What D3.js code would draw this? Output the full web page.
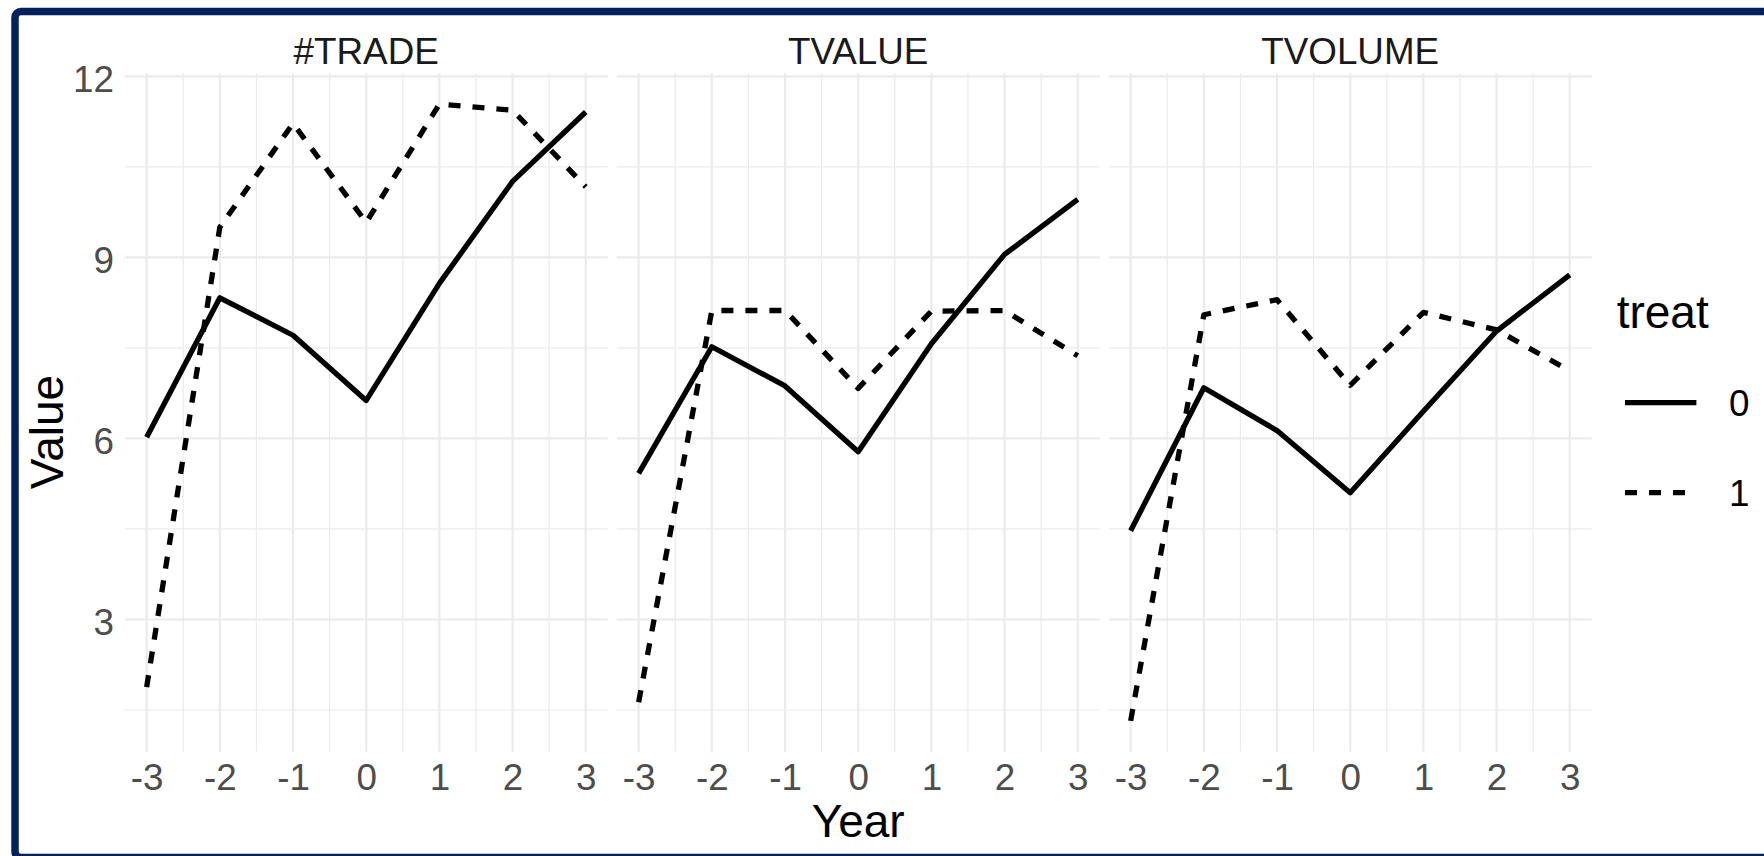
<!DOCTYPE html>
<html>
<head>
<meta charset="utf-8">
<script src="https://cdn.jsdelivr.net/npm/d3@7"></script>
<style>
  html, body { margin: 0; padding: 0; background: #ffffff; }
  svg { display: block; }
  text { font-family: "Liberation Sans", Arial, sans-serif; }
</style>
</head>
<body>
<svg id="chart" width="1764" height="856"></svg>
<script>
// Event-time window (years relative to treatment)
const years = [-3, -2, -1, 0, 1, 2, 3];

// Facet (measure) names
const facets = ["#TRADE", "TVALUE", "TVOLUME"];

// Group means per year, control (treat = 0) and treated (treat = 1)
const trade0   = [6.02, 8.33, 7.71, 6.63, 8.57, 10.26, 11.41];
const trade1   = [1.88, 9.50, 11.22, 9.58, 11.54, 11.44, 10.17];
const tvalue0  = [5.42, 7.52, 6.87, 5.78, 7.57, 9.05, 9.96];
const tvalue1  = [1.63, 8.12, 8.12, 6.83, 8.11, 8.12, 7.37];
const tvolume0 = [4.47, 6.84, 6.13, 5.10, 6.45, 7.78, 8.71];
const tvolume1 = [1.32, 8.05, 8.30, 6.88, 8.09, 7.80, 7.12];

// Axis breaks
const yBreaks = [3, 6, 9, 12];
const yMinor  = [1.5, 4.5, 7.5, 10.5];
const xBreaks = [-3, -2, -1, 0, 1, 2, 3];
const xMinor  = [-2.5, -1.5, -0.5, 0.5, 1.5, 2.5];

const groups = ["0", "1"];
const seriesByFacet = [
  [trade0, trade1],
  [tvalue0, tvalue1],
  [tvolume0, tvolume1]
];

const svg = d3.select("#chart");

// Frame
svg.append("rect")
  .attr("x", 15).attr("y", 11.5)
  .attr("width", 1800).attr("height", 846)
  .attr("rx", 6).attr("ry", 6)
  .attr("fill", "#ffffff")
  .attr("stroke", "#03215f")
  .attr("stroke-width", 7.5);

// Panel geometry
const panelTop = 73.3, panelBottom = 751.7;
const panelW = 483, panelGap = 9, panelX0 = 124.7;

// Shared y scale, 5% expansion around the data range
const allVals = seriesByFacet.flat(2);
const yLo = d3.min(allVals), yHi = d3.max(allVals);
const yPad = (yHi - yLo) * 0.05;
const y = d3.scaleLinear().domain([yLo - yPad, yHi + yPad]).range([panelBottom, panelTop]);

const axisFont = 36.8, titleFont = 46;
const gridCol = "#ebebeb";
const lineW = 5.3;
const dashes = { "0": null, "1": "12 12" };
const plainNum = d => String(d);   // ASCII hyphen for negatives

facets.forEach((name, i) => {
  const px = panelX0 + i * (panelW + panelGap);
  const x = d3.scaleLinear().domain([-3.3, 3.3]).range([px, px + panelW]);
  const g = svg.append("g");

  // minor grid
  g.selectAll(".hmin").data(yMinor.filter(v => v >= y.domain()[0] && v <= y.domain()[1]))
    .join("line")
    .attr("x1", px).attr("x2", px + panelW)
    .attr("y1", d => y(d)).attr("y2", d => y(d))
    .attr("stroke", gridCol).attr("stroke-width", 1.2);
  g.selectAll(".vmin").data(xMinor)
    .join("line")
    .attr("x1", d => x(d)).attr("x2", d => x(d))
    .attr("y1", panelTop).attr("y2", panelBottom)
    .attr("stroke", gridCol).attr("stroke-width", 1.2);
  // major grid
  g.selectAll(".hmaj").data(yBreaks)
    .join("line")
    .attr("x1", px).attr("x2", px + panelW)
    .attr("y1", d => y(d)).attr("y2", d => y(d))
    .attr("stroke", gridCol).attr("stroke-width", 2.2);
  g.selectAll(".vmaj").data(xBreaks)
    .join("line")
    .attr("x1", d => x(d)).attr("x2", d => x(d))
    .attr("y1", panelTop).attr("y2", panelBottom)
    .attr("stroke", gridCol).attr("stroke-width", 2.2);

  // strip label
  svg.append("text")
    .attr("x", px + panelW / 2).attr("y", 64)
    .attr("text-anchor", "middle")
    .attr("font-size", axisFont)
    .attr("fill", "#1a1a1a")
    .text(name);

  // x axis
  const xAxis = svg.append("g")
    .attr("transform", `translate(0,${panelBottom})`)
    .call(d3.axisBottom(x).tickValues(xBreaks).tickSize(0).tickPadding(12.2).tickFormat(plainNum));
  xAxis.select(".domain").remove();
  xAxis.selectAll("text")
    .attr("font-size", axisFont)
    .attr("font-family", "Liberation Sans, Arial, sans-serif")
    .attr("fill", "#4d4d4d");

  // y axis on the first panel only
  if (i === 0) {
    const yAxis = svg.append("g")
      .attr("transform", `translate(${px},0)`)
      .call(d3.axisLeft(y).tickValues(yBreaks).tickSize(0).tickPadding(10.7).tickFormat(plainNum));
    yAxis.select(".domain").remove();
    yAxis.selectAll("text")
      .attr("font-size", axisFont)
      .attr("font-family", "Liberation Sans, Arial, sans-serif")
      .attr("fill", "#4d4d4d")
      .attr("dy", "0.42em");
  }

  // series lines
  const line = d3.line().x((d, k) => x(years[k])).y(d => y(d));
  seriesByFacet[i].forEach((vals, s) => {
    g.append("path")
      .datum(vals)
      .attr("d", line)
      .attr("fill", "none")
      .attr("stroke", "#000000")
      .attr("stroke-width", lineW)
      .attr("stroke-linejoin", "round")
      .attr("stroke-linecap", "butt")
      .attr("stroke-dasharray", dashes[groups[s]]);
  });
});

// Axis titles
const plotLeft = panelX0, plotRight = panelX0 + 3 * panelW + 2 * panelGap;
svg.append("text")
  .attr("x", (plotLeft + plotRight) / 2).attr("y", 837)
  .attr("text-anchor", "middle")
  .attr("font-size", titleFont)
  .attr("fill", "#000000")
  .text("Year");

svg.append("text")
  .attr("transform", `translate(63,432) rotate(-90)`)
  .attr("text-anchor", "middle")
  .attr("font-size", titleFont)
  .attr("fill", "#000000")
  .text("Value");

// Legend
const legend = svg.append("g");
legend.append("text")
  .attr("x", 1616.7).attr("y", 328)
  .attr("font-size", titleFont)
  .attr("fill", "#000000")
  .text("treat");
const keyY = [402.7, 492.7];
groups.forEach((gName, k) => {
  legend.append("line")
    .attr("x1", 1625).attr("x2", 1696.4)
    .attr("y1", keyY[k]).attr("y2", keyY[k])
    .attr("stroke", "#000000")
    .attr("stroke-width", lineW)
    .attr("stroke-linecap", "butt")
    .attr("stroke-dasharray", dashes[gName]);
  legend.append("text")
    .attr("x", 1729).attr("y", keyY[k])
    .attr("dy", "0.36em")
    .attr("font-size", axisFont)
    .attr("fill", "#000000")
    .text(gName);
});
</script>
</body>
</html>
